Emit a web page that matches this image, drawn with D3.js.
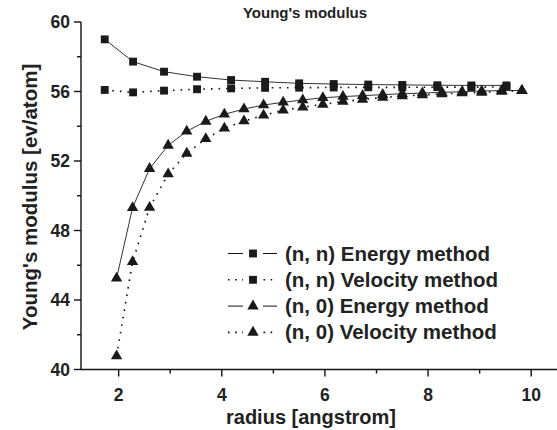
<!DOCTYPE html>
<html><head><meta charset="utf-8">
<script src="https://cdn.jsdelivr.net/npm/d3@7"></script>
<style>
body{margin:0;background:#fff;}
text{font-family:"Liberation Sans",Arial,sans-serif;font-weight:bold;fill:#222;}
</style></head>
<body><svg id="c" width="557" height="430"></svg>
<script>
const radiusNN = [1.73, 2.28, 2.88, 3.52, 4.18, 4.84, 5.50, 6.17, 6.84, 7.50, 8.18, 8.84, 9.52];
const nnEnergy = [59.0, 57.72, 57.14, 56.85, 56.66, 56.56, 56.47, 56.43, 56.40, 56.38, 56.36, 56.35, 56.35];
const nnVelocity = [56.09, 55.95, 56.05, 56.13, 56.18, 56.21, 56.22, 56.23, 56.24, 56.24, 56.25, 56.25, 56.26];
const radiusN0 = [1.96, 2.27, 2.60, 2.96, 3.32, 3.69, 4.05, 4.43, 4.81, 5.19, 5.57, 5.96, 6.35, 6.73, 7.12, 7.50, 7.89, 8.27, 8.66, 9.04, 9.43, 9.82];
const n0Energy = [45.25, 49.31, 51.56, 52.90, 53.71, 54.28, 54.69, 54.99, 55.22, 55.38, 55.51, 55.64, 55.71, 55.76, 55.82, 55.87, 55.91, 55.95, 55.99, 56.03, 56.05, 56.06];
const n0Velocity = [40.78, 46.20, 49.32, 51.25, 52.44, 53.28, 53.88, 54.30, 54.63, 54.92, 55.09, 55.26, 55.42, 55.54, 55.65, 55.74, 55.80, 55.86, 55.91, 55.95, 56.00, 56.05];
const xTicks = [2, 4, 6, 8, 10];
const xMinor = [3, 5, 7, 9];
const yTicks = [40, 44, 48, 52, 56, 60];
const yMinor = [42, 46, 50, 54, 58];
const legendLabels = ["(n, n) Energy method", "(n, n) Velocity method", "(n, 0) Energy method", "(n, 0) Velocity method"];
const titleText = "Young's modulus";
const xLabel = "radius [angstrom]";
const yLabel = "Young's modulus [ev/atom]";

const svg = d3.select("#c");
const x = d3.scaleLinear().domain([1.27, 10.5]).range([81, 557]);
const y = d3.scaleLinear().domain([40, 60]).range([369.5, 22]);

const series = [
  {xs: radiusNN, ys: nnEnergy, sym: d3.symbolSquare, dash: null},
  {xs: radiusNN, ys: nnVelocity, sym: d3.symbolSquare, dash: "1.6 6"},
  {xs: radiusN0, ys: n0Energy, sym: d3.symbolTriangle, dash: null},
  {xs: radiusN0, ys: n0Velocity, sym: d3.symbolTriangle, dash: "1.6 6"}
];
const symSize = s => s === d3.symbolSquare ? 62 : 56;

// axes
const gx = svg.append("g").attr("transform", "translate(0,369.5)");
gx.append("line").attr("x1", x.range()[0]).attr("x2", 557).attr("stroke", "#111").attr("stroke-width", 1.4);
gx.selectAll(".mj").data(xTicks).join("line").attr("x1", d => x(d)).attr("x2", d => x(d)).attr("y1", 0).attr("y2", 7).attr("stroke", "#111").attr("stroke-width", 1.4);
gx.selectAll(".mn").data(xMinor).join("line").attr("x1", d => x(d)).attr("x2", d => x(d)).attr("y1", 0).attr("y2", 4).attr("stroke", "#111").attr("stroke-width", 1.4);
gx.selectAll("text").data(xTicks).join("text").attr("x", d => x(d)).attr("y", 31).attr("text-anchor", "middle").attr("font-size", 17.5).text(d => d);

const gy = svg.append("g").attr("transform", "translate(81,0)");
gy.append("line").attr("y1", y(60)).attr("y2", y(40)).attr("stroke", "#111").attr("stroke-width", 1.4);
gy.selectAll(".mj").data(yTicks).join("line").attr("y1", d => y(d)).attr("y2", d => y(d)).attr("x1", 0).attr("x2", -7).attr("stroke", "#111").attr("stroke-width", 1.4);
gy.selectAll(".mn").data(yMinor).join("line").attr("y1", d => y(d)).attr("y2", d => y(d)).attr("x1", 0).attr("x2", -4).attr("stroke", "#111").attr("stroke-width", 1.4);
gy.selectAll("text").data(yTicks).join("text").attr("x", -11).attr("y", d => y(d) + 6).attr("text-anchor", "end").attr("font-size", 17.5).text(d => d);

// series
const line = d3.line();
series.forEach(s => {
  const pts = s.xs.map((v, i) => [x(v), y(s.ys[i])]);
  svg.append("path").attr("d", line(pts)).attr("fill", "none").attr("stroke", s.dash ? "#111" : "#333")
    .attr("stroke-width", s.dash ? 1.6 : 1).attr("stroke-dasharray", s.dash);
  svg.append("g").selectAll("path").data(pts).join("path")
    .attr("transform", d => `translate(${d[0]},${d[1]})`)
    .attr("d", d3.symbol(s.sym, symSize(s.sym))).attr("fill", "#1a1a1a");
});

// legend
const lg = svg.append("g");
legendLabels.forEach((t, i) => {
  const s = series[i];
  const yy = 253.5 + i * 26.3;
  lg.append("line").attr("x1", 228).attr("x2", 277).attr("y1", yy).attr("y2", yy)
    .attr("stroke", "#111").attr("stroke-width", s.dash ? 1.6 : 1).attr("stroke-dasharray", s.dash ? "1.6 5.5" : null);
  lg.append("rect").attr("x", 243).attr("y", yy - 7).attr("width", 20).attr("height", 14).attr("fill", "#fff");
  lg.append("path").attr("transform", `translate(253,${yy})`).attr("d", d3.symbol(s.sym, symSize(s.sym))).attr("fill", "#1a1a1a");
  lg.append("text").attr("x", 285).attr("y", yy + 7).attr("font-size", 20.5).text(t);
});

svg.append("text").attr("x", 305).attr("y", 18).attr("text-anchor", "middle").attr("font-size", 15).text(titleText);
svg.append("text").attr("x", 311).attr("y", 424).attr("text-anchor", "middle").attr("font-size", 20).text(xLabel);
svg.append("text").attr("transform", "translate(37,197) rotate(-90)").attr("text-anchor", "middle").attr("font-size", 20.5).text(yLabel);
</script></body></html>
